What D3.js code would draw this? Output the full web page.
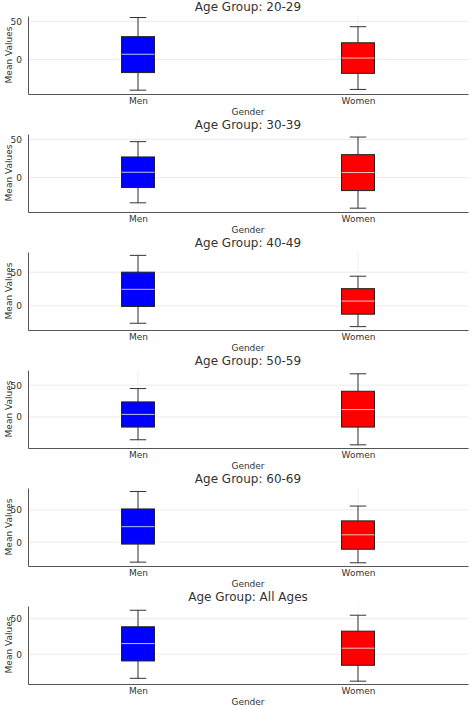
<!DOCTYPE html>
<html>
<head>
<script src="https://d3js.org/d3.v7.min.js"></script>
<style>
  body { margin: 0; background: #fff; }
  text { font-family: "DejaVu Sans", sans-serif; fill: #333; }
</style>
</head>
<body>
<svg id="chart"></svg>
<script>
// Data
const groups = ["20-29", "30-39", "40-49", "50-59", "60-69", "All Ages"];
const genders = ["Men", "Women"];
// [low whisker, Q1, median, Q3, high whisker]
const menStats = [
  [-40, -17, 7, 30, 55],
  [-33, -13, 7, 27, 47],
  [-26, -1, 24.5, 50, 75],
  [-36, -16, 4, 23.7, 44.7],
  [-31, -3, 24, 51.5, 78.6],
  [-34, -9.5, 15, 38.7, 62]
];
const womenStats = [
  [-39, -18, 2, 22, 43],
  [-40, -17, 6.6, 30, 53],
  [-31, -12.5, 7, 25.5, 44],
  [-44, -16, 11.6, 40.5, 68],
  [-32, -11, 11.4, 33, 56],
  [-38, -15.6, 8.5, 32.5, 55]
];
const yDomains = [
  [-45, 57], [-45, 57], [-36, 80], [-49, 74], [-37, 84], [-42, 68]
];
const yTicks = [0, 50];
const colors = ["#0000ff", "#ff0000"];

const width = 474, height = 707;
const svg = d3.select("#chart").attr("width", width).attr("height", height);

const left = 28, right = 468, panelH = 78, step = 118, top0 = 16;

const x = d3.scaleLinear().domain([0.5, 2.5]).range([left, right]);

groups.forEach((g, i) => {
  const top = top0 + i * step, bottom = top + panelH;
  const y = d3.scaleLinear().domain(yDomains[i]).range([bottom, top]);
  const p = svg.append("g");

  // grid
  p.selectAll(".hg").data(yTicks).join("line")
    .attr("x1", left).attr("x2", right)
    .attr("y1", d => y(d)).attr("y2", d => y(d))
    .attr("stroke", "#e6e6e6").attr("stroke-width", 0.8);
  p.selectAll(".vg").data(genders).join("line")
    .attr("x1", (d, j) => x(j + 1)).attr("x2", (d, j) => x(j + 1))
    .attr("y1", top).attr("y2", bottom)
    .attr("stroke", "#eeeeee").attr("stroke-width", 0.8);

  // boxes
  const stats = [menStats[i], womenStats[i]];
  const bw = x(1.15) - x(1);
  stats.forEach((s, j) => {
    const cx = x(j + 1);
    p.append("line").attr("x1", cx).attr("x2", cx).attr("y1", y(s[0])).attr("y2", y(s[1]))
      .attr("stroke", "#333").attr("stroke-width", 1);
    p.append("line").attr("x1", cx).attr("x2", cx).attr("y1", y(s[3])).attr("y2", y(s[4]))
      .attr("stroke", "#333").attr("stroke-width", 1);
    [s[0], s[4]].forEach(v => {
      p.append("line").attr("x1", cx - bw / 4).attr("x2", cx + bw / 4)
        .attr("y1", y(v)).attr("y2", y(v)).attr("stroke", "#333").attr("stroke-width", 1);
    });
    p.append("rect").attr("x", cx - bw / 2).attr("width", bw)
      .attr("y", y(s[3])).attr("height", y(s[1]) - y(s[3]))
      .attr("fill", colors[j]).attr("stroke", "#222").attr("stroke-width", 1);
    p.append("line").attr("x1", cx - bw / 2).attr("x2", cx + bw / 2)
      .attr("y1", y(s[2])).attr("y2", y(s[2]))
      .attr("stroke", "#f0f0f0").attr("stroke-opacity", 0.8).attr("stroke-width", 1);
  });

  // axes
  const yAxis = d3.axisLeft(y).tickValues(yTicks).tickSize(0).tickPadding(6);
  p.append("g").attr("transform", `translate(${left},0)`).call(yAxis)
    .call(a => a.select(".domain").attr("stroke", "#555"))
    .selectAll("text").style("font-size", "9px");
  const xAxis = d3.axisBottom(x).tickValues([1, 2]).tickFormat(d => genders[d - 1]).tickSize(0).tickPadding(4);
  p.append("g").attr("transform", `translate(0,${bottom})`).call(xAxis)
    .call(a => a.select(".domain").attr("stroke", "#555"))
    .selectAll("text").style("font-size", "9px");

  p.append("text").attr("x", (left + right) / 2).attr("y", top - 5)
    .attr("text-anchor", "middle").style("font-size", "12px")
    .text("Age Group: " + g);
  p.append("text").attr("x", (left + right) / 2).attr("y", bottom + 21)
    .attr("text-anchor", "middle").style("font-size", "9px").text("Gender");
  p.append("text").attr("transform", `translate(12,${(top + bottom) / 2}) rotate(-90)`)
    .attr("text-anchor", "middle").style("font-size", "9px").text("Mean Values");
});
</script>
</body>
</html>
